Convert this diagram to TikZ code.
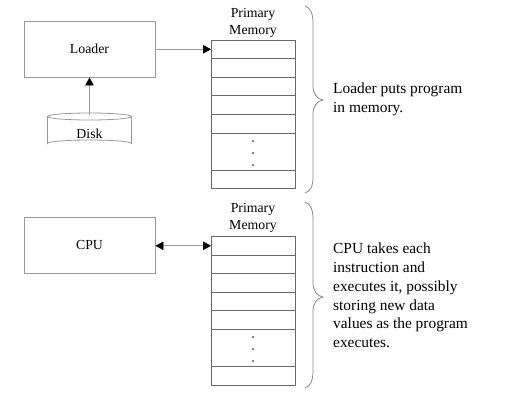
\documentclass[tikz,border=0pt]{standalone}
\usepackage{fontspec}
\setmainfont{Liberation Serif}
\usetikzlibrary{arrows.meta}
\definecolor{boxgray}{HTML}{9A9A9A}
\definecolor{cellgray}{HTML}{6A6A6A}
\definecolor{bracegray}{HTML}{8A8A8A}
\tikzset{
  box/.style={draw=boxgray, line width=0.9pt, minimum width=131pt, minimum height=56pt, inner sep=0pt,
              font=\fontsize{13.8}{17}\selectfont},
  cell/.style={draw=cellgray, line width=0.9pt, minimum width=84pt, inner sep=0pt, outer sep=0pt},
  lbl/.style={font=\fontsize{13.8}{17}\selectfont, align=center, inner sep=0pt},
  note/.style={font=\fontsize{15.4}{18.7}\selectfont, align=left, inner sep=0pt, anchor=west},
  conn/.style={draw=boxgray, line width=0.8pt},
  tip/.style={-{Triangle[length=8pt,width=8.5pt,color=black]}},
  dtip/.style={{Triangle[length=8pt,width=8.5pt,color=black]}-{Triangle[length=8pt,width=8.5pt,color=black]}},
  brace/.style={draw=bracegray, line width=0.8pt},
  cyl/.style={draw=boxgray, line width=0.8pt}
}
\begin{document}
\begin{tikzpicture}[x=1pt,y=-1pt]
\useasboundingbox (0,0) rectangle (507,407);

% ---------- top panel ----------
\node[box] (loader) at (89.5,49) {Loader};
\draw[cyl] (89.5,116.5) ellipse [x radius=42, y radius=3.5];
\draw[cyl] (47.5,116.5) -- (47.5,143.5) arc[start angle=180, end angle=360, x radius=42, y radius=3.5] -- (131.5,116.5);
\node[lbl] (disk) at (89.5,134) {Disk};
\coordinate (disktop) at (89.5,115);

\node[lbl] (pm1) at (253,22.5) {Primary\\Memory};
\foreach \i in {1,...,5} {
  \node[cell, minimum height=18.6pt] (t\i) at (253,{40+18.6*(\i-0.5)}) {};
}
\node[cell, minimum height=37.2pt] (t6) at (253,151.6) {};
\node[cell, minimum height=18.6pt] (t7) at (253,179.5) {};
\foreach \y in {141,153,165} \fill (253,\y) circle[radius=0.8pt];

\draw[conn,tip] (disktop) -- (loader.south);
\draw[conn,tip] (loader.east |- t1.west) -- (t1.west);

\draw[brace] (305,6) .. controls (311,8) and (313,14) .. (313,24) -- (313,86)
  .. controls (313,94) and (317,99) .. (323,100)
  .. controls (317,101) and (313,106) .. (313,114) -- (313,176)
  .. controls (313,186) and (311,191) .. (305,193);
\node[note] (n1) at (333,99.5) {Loader puts program\\in memory.};

% ---------- bottom panel ----------
\node[box] (cpu) at (89.5,245) {CPU};

\node[lbl] (pm2) at (253,218) {Primary\\Memory};
\foreach \i in {1,...,5} {
  \node[cell, minimum height=18.6pt] (b\i) at (253,{236.5+18.6*(\i-0.5)}) {};
}
\node[cell, minimum height=37.2pt] (b6) at (253,348.1) {};
\node[cell, minimum height=18.6pt] (b7) at (253,376) {};
\foreach \y in {337,349,361} \fill (253,\y) circle[radius=0.8pt];

\draw[conn,dtip] (cpu.east |- b1.west) -- (b1.west);

\draw[brace] (305,202) .. controls (311,204) and (313,210) .. (313,220) -- (313,283)
  .. controls (313,291) and (317,296) .. (323,297)
  .. controls (317,298) and (313,303) .. (313,311) -- (313,370)
  .. controls (313,380) and (311,386) .. (305,388);
\node[note] (n2) at (333,295.5) {CPU takes each\\instruction and\\executes it, possibly\\storing new data\\values as the program\\executes.};
\end{tikzpicture}
\end{document}
